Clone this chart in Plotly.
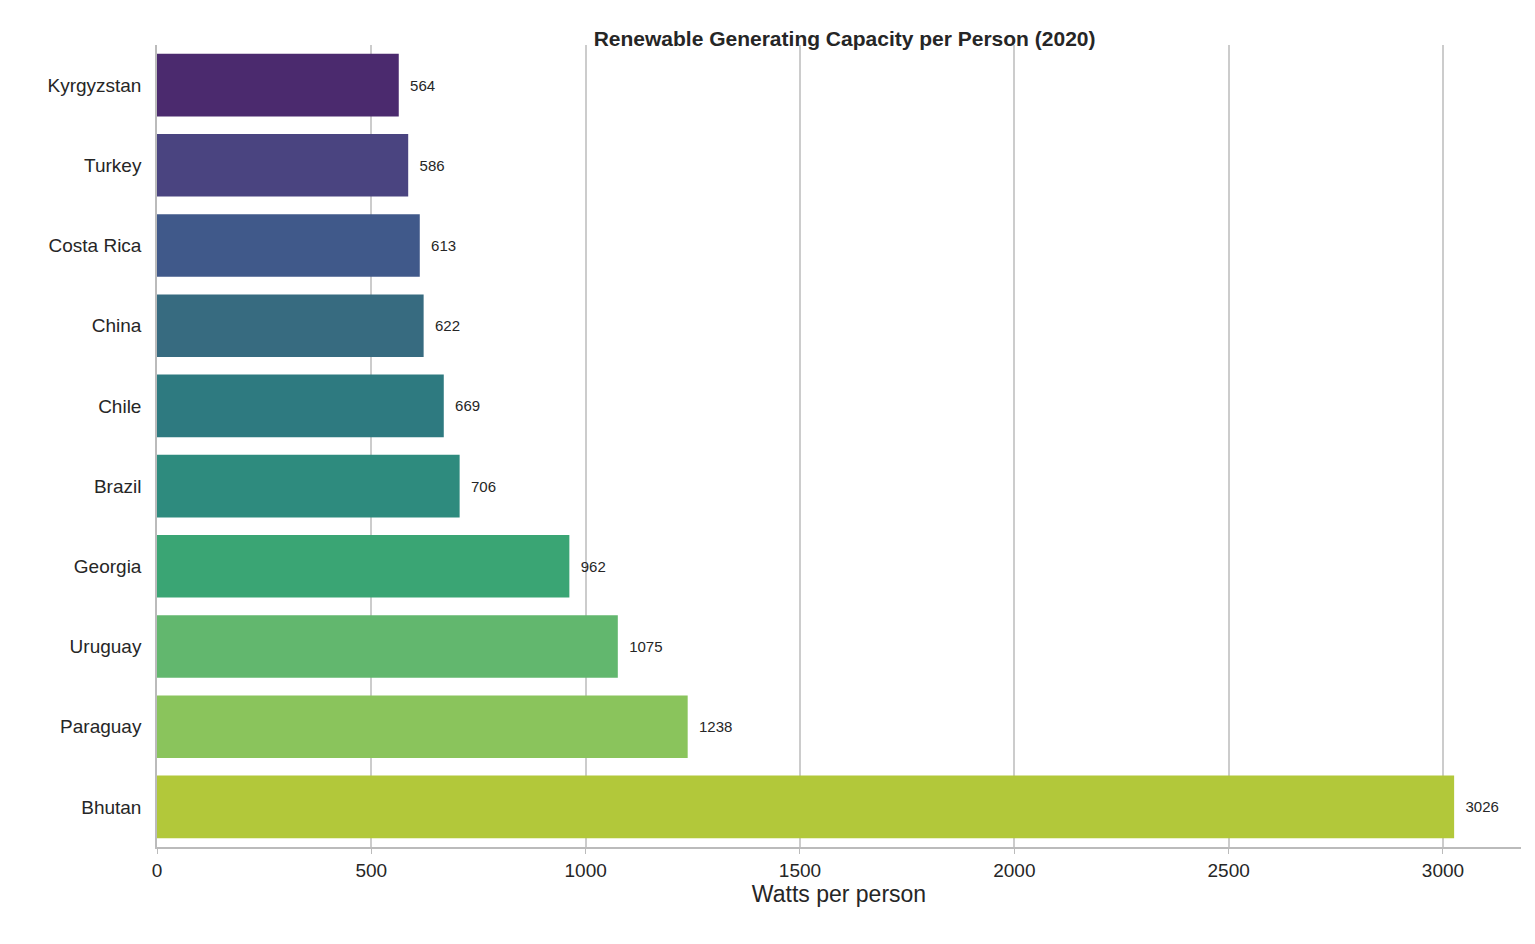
import plotly.graph_objects as go

countries = ["Kyrgyzstan", "Turkey", "Costa Rica", "China", "Chile",
             "Brazil", "Georgia", "Uruguay", "Paraguay", "Bhutan"]
watts = [564, 586, 613, 622, 669, 706, 962, 1075, 1238, 3026]
colors = ["#4b2a6e", "#4a4480", "#40598a", "#376b80", "#2e7a80",
          "#2e8b7e", "#3aa574", "#62b76e", "#8ac45c", "#b2c83a"]
x_ticks = [0, 500, 1000, 1500, 2000, 2500, 3000]

fig = go.Figure()
fig.add_trace(go.Bar(
    x=watts, y=countries, orientation="h",
    marker=dict(color=colors, line=dict(width=0)),
    width=0.78,
    text=["  " + str(v) for v in watts], textposition="outside",
    textfont=dict(size=15, color="#262626"),
    cliponaxis=False,
))

fig.update_layout(
    width=1535, height=944,
    margin=dict(l=149, r=22, t=37, b=105),
    plot_bgcolor="white", paper_bgcolor="white",
    font=dict(family="Liberation Sans, Arial, sans-serif", color="#262626"),
    title=dict(text="<b>Renewable Generating Capacity per Person (2020)</b>",
               x=0.545, xanchor="center", y=0.975, font=dict(size=21)),
    showlegend=False,
)
fig.update_xaxes(
    range=[0, 3182], tickvals=x_ticks, tickfont=dict(size=19),
    showgrid=True, gridcolor="#cccccc", gridwidth=1.5, zeroline=False,
    showline=True, linecolor="#bbbbbb", linewidth=1.5,
    ticks="outside", ticklen=5, tickcolor="#bbbbbb",
    title=dict(text="Watts per person", font=dict(size=23), standoff=6),
)
fig.update_yaxes(
    categoryorder="array", categoryarray=countries, autorange="reversed",
    range=[9.5, -0.5], tickfont=dict(size=19),
    showline=True, linecolor="#bbbbbb", linewidth=1.5,
    ticks="", ticklabelstandoff=10, showgrid=False,
)

fig.write_html("out.html")
